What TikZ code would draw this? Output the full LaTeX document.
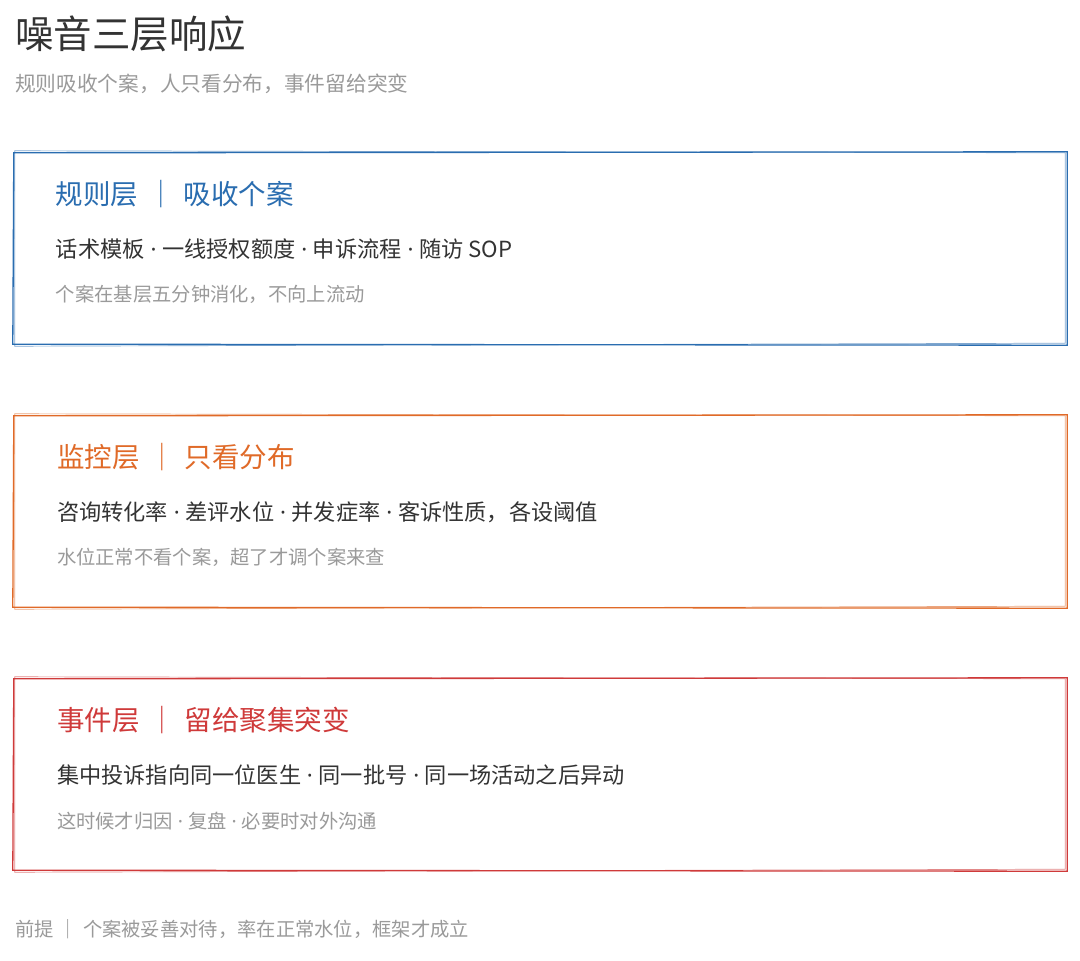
\documentclass[tikz,border=0pt]{standalone}
\usepackage{fontspec}
\setmainfont{Noto Sans CJK SC}
\newfontfamily\latinfont{Noto Sans}
\usetikzlibrary{positioning}
\usepackage{xcolor}
\definecolor{inkdark}{HTML}{333333}
\definecolor{inkgray}{HTML}{9A9A9A}
\definecolor{rulesblue}{HTML}{2A6DB0}
\definecolor{monorange}{HTML}{E06A28}
\definecolor{eventred}{HTML}{CF3A3A}
\newcommand{\sep}{\hspace{9pt}｜\hspace{9pt}}
\newcommand{\md}{{\latinfont\ ·\ }}
% rough double stroke round a layer box
\newcommand{\roughbox}[2]{%
\draw[#2, line width=1.3pt] ([shift={(0,1)}]#1.north west) -- ([shift={(1,0)}]#1.north east) -- ([shift={(1,1)}]#1.south east) -- ([shift={(-1,0)}]#1.south west) -- cycle;
\draw[#2, line width=0.7pt, opacity=0.6] ([shift={(1,-1)}]#1.north west) -- ([shift={(-1,1)}]#1.north east) -- ([shift={(-1,-1)}]#1.south east) -- ([shift={(1,2)}]#1.south west) -- cycle;}

\begin{document}
\begin{tikzpicture}[x=1pt,y=-1pt,
  layer/.style={minimum width=1052pt, minimum height=192pt, inner sep=0pt},
  heading/.style={anchor=west, inner sep=0pt, font=\fontsize{27.5}{31}\selectfont},
  items/.style={anchor=west, inner sep=0pt, text=inkdark, font=\fontsize{22.2}{26}\selectfont},
  note/.style={anchor=west, inner sep=0pt, text=inkgray, font=\fontsize{19.3}{23}\selectfont}]
\useasboundingbox[fill=white] (0,0) rectangle (1080,961);

\node (title) [anchor=west, inner sep=0pt, text=inkdark, font=\fontsize{38.5}{43}\selectfont] at (15,34) {噪音三层响应};
\node (subtitle) [below=50pt of title.west, note, font=\fontsize{20.7}{25}\selectfont] {规则吸收个案，人只看分布，事件留给突变};

\node (rules) [layer] at (540,248) {};
\node (monitor) [layer] at (540,511) {};
\node (event) [layer] at (540,774) {};
\roughbox{rules}{rulesblue}
\roughbox{monitor}{monorange}
\roughbox{event}{eventred}

\node (rulestitle) [heading, text=rulesblue] at ([shift={(42,42)}]rules.north west) {规则层\sep 吸收个案};
\node (rulesitems) [below=55pt of rulestitle.west, items] {话术模板\md 一线授权额度\md 申诉流程\md 随访 SOP};
\node (rulesnote) [below=46pt of rulesitems.west, note] {个案在基层五分钟消化，不向上流动};

\node (monitortitle) [heading, text=monorange] at ([shift={(43,42)}]monitor.north west) {监控层\sep 只看分布};
\node (monitoritems) [below=55pt of monitortitle.west, items] {咨询转化率\md 差评水位\md 并发症率\md 客诉性质，各设阈值};
\node (monitornote) [below=46pt of monitoritems.west, note] {水位正常不看个案，超了才调个案来查};

\node (eventtitle) [heading, text=eventred] at ([shift={(43,42)}]event.north west) {事件层\sep 留给聚集突变};
\node (eventitems) [below=55pt of eventtitle.west, items] {集中投诉指向同一位医生\md 同一批号\md 同一场活动之后异动};
\node (eventnote) [below=46pt of eventitems.west, note] {这时候才归因\md 复盘\md 必要时对外沟通};

\node (premise) [note, font=\fontsize{19.3}{23}\selectfont] at (15,929) {前提\hspace{5pt}｜\hspace{5pt}个案被妥善对待，率在正常水位，框架才成立};
\end{tikzpicture}
\end{document}
